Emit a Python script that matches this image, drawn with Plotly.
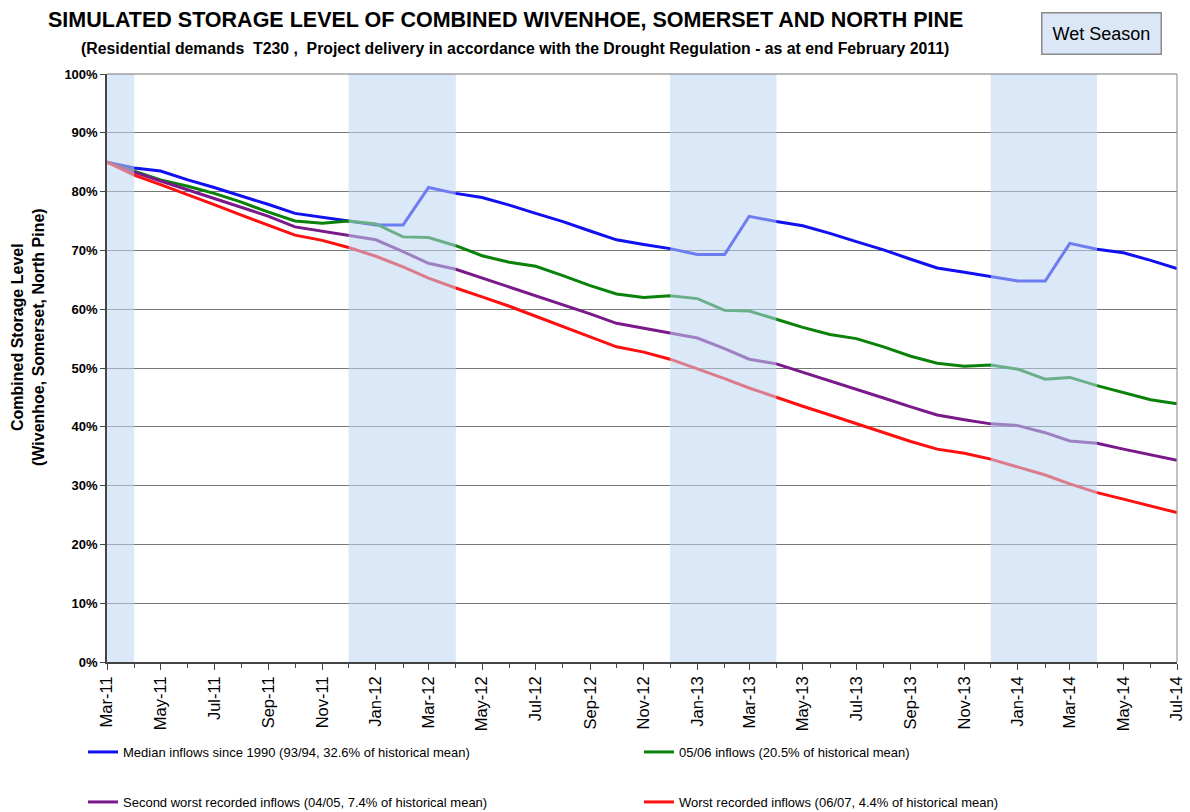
import plotly.graph_objects as go
import pandas as pd

months = pd.date_range("2011-03-01", "2014-07-01", freq="MS").strftime("%Y-%m-%d").tolist()

median_1990 = [85.0, 84.0, 83.5, 82.0, 80.7, 79.3, 77.8, 76.3, 75.7, 75.0, 74.3, 74.3,
               80.7, 79.7, 79.0, 77.7, 76.3, 74.9, 73.3, 71.8, 71.0, 70.3, 69.3, 69.3,
               75.8, 74.9, 74.2, 72.9, 71.5, 70.1, 68.5, 67.0, 66.3, 65.6, 64.8, 64.8,
               71.2, 70.2, 69.6, 68.3, 66.9]
inflows_0506 = [85.0, 83.5, 82.0, 80.9, 79.7, 78.2, 76.5, 75.0, 74.6, 75.0, 74.5, 72.3,
                72.2, 70.8, 69.1, 68.0, 67.3, 65.7, 64.0, 62.6, 62.0, 62.3, 61.8, 59.8,
                59.7, 58.3, 56.9, 55.7, 55.0, 53.6, 52.0, 50.8, 50.3, 50.5, 49.8, 48.1,
                48.4, 47.0, 45.8, 44.6, 43.9]
second_worst = [85.0, 83.3, 81.8, 80.3, 78.8, 77.3, 75.8, 74.0, 73.3, 72.5, 71.8, 69.8,
                67.8, 66.8, 65.3, 63.8, 62.3, 60.8, 59.2, 57.6, 56.8, 55.9, 55.1, 53.3,
                51.5, 50.7, 49.3, 47.8, 46.4, 44.9, 43.4, 42.0, 41.2, 40.5, 40.2, 39.0,
                37.6, 37.2, 36.2, 35.2, 34.3]
worst = [85.0, 82.8, 81.2, 79.5, 77.8, 76.0, 74.3, 72.6, 71.7, 70.5, 69.0, 67.2,
         65.3, 63.6, 62.1, 60.5, 58.8, 57.1, 55.3, 53.6, 52.7, 51.5, 49.9, 48.2,
         46.6, 45.0, 43.5, 42.0, 40.5, 39.0, 37.5, 36.2, 35.5, 34.5, 33.2, 31.8,
         30.3, 28.8, 27.7, 26.5, 25.4]

series_names = ["Median inflows since 1990 (93/94, 32.6% of historical mean)",
                "05/06 inflows (20.5% of historical mean)",
                "Second worst recorded inflows (04/05, 7.4% of historical mean)",
                "Worst recorded inflows (06/07, 4.4% of historical mean)"]
series_colors = ["#1010f0", "#0a820a", "#7a1a8a", "#ff1010"]
series_legends = ["legend", "legend2", "legend3", "legend4"]

wet_starts = ["2011-03-01", "2011-12-01", "2012-12-01", "2013-12-01"]
wet_ends = ["2011-04-01", "2012-04-01", "2013-04-01", "2014-04-01"]

FONT = "Liberation Sans, Arial, sans-serif"

# plot-area geometry in pixels (layout only)
L, R, T, B = 107, 1177, 74, 662
PW, PH = R - L, B - T


def px(xp):
    return (xp - L) / PW


def py(yp):
    return (B - yp) / PH


fig = go.Figure()
for name, vals, col, lg in zip(series_names, [median_1990, inflows_0506, second_worst, worst],
                               series_colors, series_legends):
    fig.add_trace(go.Scatter(x=months, y=vals, mode="lines", name=name,
                             line=dict(color=col, width=3), legend=lg))

for s, e in zip(wet_starts, wet_ends):
    fig.add_shape(type="rect", xref="x", yref="paper", x0=s, x1=e, y0=0, y1=1,
                  fillcolor="rgba(188,213,242,0.55)", line=dict(width=0), layer="above")

leg_common = dict(orientation="h", xanchor="left", yanchor="middle", itemwidth=30,
                  font=dict(size=13), bgcolor="rgba(0,0,0,0)")
legend_pos = [(83, 752), (639, 752), (83, 802), (639, 802)]

fig.update_layout(
    width=1190, height=812,
    margin=dict(l=L, r=1190 - R, t=T, b=812 - B, autoexpand=False),
    paper_bgcolor="white", plot_bgcolor="white",
    font=dict(family=FONT, color="black", size=13),
    showlegend=True,
    xaxis=dict(type="date", range=["2011-03-01", "2014-07-01"], automargin=False,
               dtick="M2", tick0="2011-03-01", tickformat="%b-%y", tickangle=-90,
               ticks="outside", ticklen=6, tickcolor="#444", tickfont=dict(size=16.5),
               showgrid=False, showline=True, linecolor="#444", linewidth=1.5,
               zeroline=False,
               minor=dict(dtick="M1", ticks="outside", ticklen=4, tickcolor="#444")),
    yaxis=dict(range=[0, 100], dtick=10, ticks="outside", ticklen=5, automargin=False,
               tickprefix="<b>", ticksuffix="%</b>",
               tickcolor="#444", tickfont=dict(size=13),
               showgrid=True, gridcolor="#777777", gridwidth=1.2,
               showline=True, linecolor="#444", linewidth=1.5, zeroline=False),
)
for i, (lx, ly) in enumerate(legend_pos):
    key = "legend" if i == 0 else f"legend{i + 1}"
    fig.update_layout({key: dict(leg_common, x=px(lx), y=py(ly))})

# top and right frame lines
fig.add_shape(type="line", xref="paper", yref="paper", x0=1, x1=1, y0=0, y1=1,
              line=dict(color="#999", width=1.2))
fig.add_shape(type="line", xref="paper", yref="paper", x0=0, x1=1, y0=1, y1=1,
              line=dict(color="#777", width=1.2))

fig.add_annotation(xref="paper", yref="paper", x=px(28), y=py(337),
                   text="<b>Combined Storage Level<br>(Wivenhoe, Somerset, North Pine)</b>",
                   textangle=-90, showarrow=False, font=dict(size=16),
                   xanchor="center", yanchor="middle")
fig.add_annotation(xref="paper", yref="paper", x=px(505), y=py(20),
                   text="<b>SIMULATED STORAGE LEVEL OF COMBINED WIVENHOE, SOMERSET AND NORTH PINE</b>",
                   showarrow=False, font=dict(size=21.5), xanchor="center", yanchor="middle")
fig.add_annotation(xref="paper", yref="paper", x=px(515), y=py(48),
                   text="<b>(Residential demands  T230 ,  Project delivery in accordance with the Drought Regulation - as at end February 2011)</b>",
                   showarrow=False, font=dict(size=15.8), xanchor="center", yanchor="middle")
fig.add_annotation(xref="paper", yref="paper", x=px(1101), y=py(33),
                   text="Wet Season", showarrow=False, font=dict(size=18),
                   bgcolor="#dbe7f7", bordercolor="#8a8a8a", borderwidth=1.5, borderpad=10,
                   xanchor="center", yanchor="middle")

fig.write_html("out.html", config={"displayModeBar": False},
               post_script="document.body.style.margin='0px';document.body.style.overflow='hidden';")
